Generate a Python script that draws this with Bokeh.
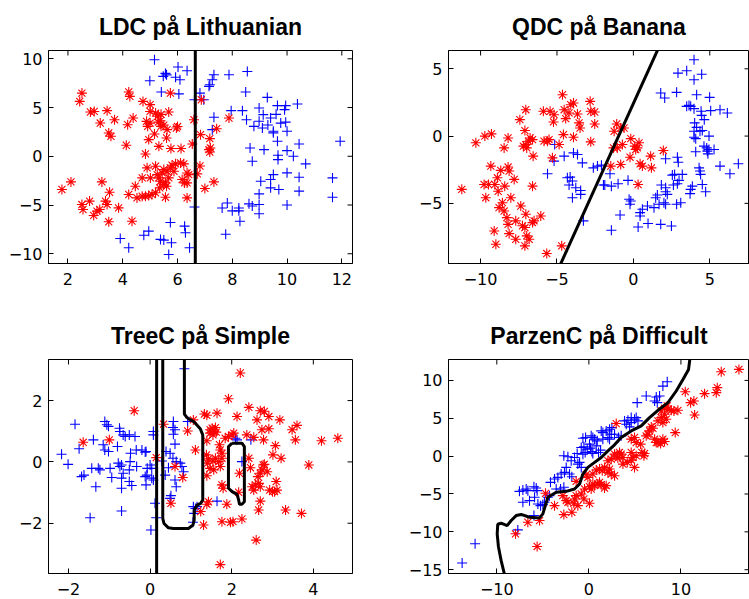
import math
from bokeh.plotting import figure
from bokeh.layouts import column, row
from bokeh.models import Range1d, FixedTicker
from bokeh.embed import file_html
from bokeh.resources import INLINE

# ---------------- data ----------------
titles = ["LDC på Lithuanian", "QDC på Banana", "TreeC på Simple", "ParzenC på Difficult"]

# Panel 1: LDC on Lithuanian
lith_plus_x = [5.16, 6.02, 6.35, 5.56, 5.6, 4.99, 5.48, 5.93, 6.09, 5.41, 6.05, 7.33, 7.27, 7.18, 7.15, 7.88, 8.55, 8.49,
               6.82, 6.96, 6.62, 7.96, 7.33, 7.27, 8.37, 8.52, 8.98, 9.28, 9.65, 9.95, 9.91, 10.38, 9.13, 9.4, 8.79, 9.1,
               9.5, 9.5, 9.95, 9.77, 10.0, 8.65, 9.16, 9.65, 10.44, 9.67, 9.67, 10.0, 10.23, 10.68, 8.73, 11.94, 11.66,
               11.66, 10.44, 10.0, 9.5, 9.4, 9.04, 9.4, 9.7, 8.98, 8.98, 8.98, 8.61, 8.73, 8.24, 8.24, 8.0, 7.82, 7.63,
               8.28, 10.0, 10.44, 7.76, 6.62, 5.74, 6.26, 6.29, 4.95, 4.77, 5.38, 5.5, 5.78, 3.91, 4.22, 5.68, 6.44,
               8.98, 9.3, 9.6]
lith_plus_y = [9.9, 9.15, 8.77, 8.5, 8.35, 7.75, 8.2, 8.1, 7.85, 6.6, 6.4, 8.36, 7.85, 7.34, 7.17, 8.36, 8.7, 6.6,
               6.48, 5.8, 5.8, 4.68, 4.0, 2.73, 4.68, 3.75, 4.95, 6.04, 5.2, 5.2, 4.78, 5.36, 4.27, 3.92, 3.07, 2.9,
               2.56, 2.4, 3.5, 3.4, 2.56, 0.85, 0.68, 1.54, 1.26, 0.1, -0.34, 0.58, 0.0, -0.78, -0.51, 1.54, -2.22,
               -4.2, -2.15, -1.7, -1.88, -2.39, -2.56, -3.24, -3.41, -3.86, -4.95, -5.9, -4.88, -5.1, -5.3, -5.6, -5.6,
               -4.8, -5.3, -6.66, -5.0, -3.58, -8.0, -5.2, -6.8, -7.17, -7.85, -7.68, -8.1, -8.53, -8.6, -8.87, -8.43,
               -9.39, -10.07, -9.39, 3.6, 3.2, 4.3]
lith_star_x = [1.78, 2.11, 2.51, 2.43, 2.82, 2.96, 3.43, 3.18, 3.49, 3.57, 3.7, 4.22, 4.26, 4.38, 4.18, 4.13, 4.74,
               4.87, 4.91, 5.0, 5.0, 5.2, 5.28, 5.38, 5.4, 5.68, 5.62, 5.6, 5.16, 4.95, 5.32, 5.74, 5.96, 6.0, 5.76,
               6.13, 4.83, 6.6, 6.54, 6.84, 6.87, 7.43, 7.18, 7.15, 7.18, 7.2, 7.88, 6.82, 6.72, 7.33, 7.0,
               4.46, 4.71, 4.89, 5.01, 5.2, 5.26, 5.38, 5.5, 5.56, 5.6, 5.62, 5.74, 5.8, 5.93, 6.11, 6.23, 6.35, 6.41,
               6.17, 6.26, 5.87, 5.68, 5.44, 5.32, 5.56, 4.22, 4.52, 4.71, 4.83, 4.95, 5.07, 5.2, 5.35, 5.5,
               3.85, 4.34, 3.49, 3.37, 3.43, 3.16, 3.06, 2.94, 2.79, 2.51, 2.55, 3.24, 3.52, 6.35, 6.35,
               5.0, 5.4, 5.5, 5.3]
lith_star_y = [-3.41, -2.63, 6.48, 5.63, 4.54, 4.6, 4.68, 3.41, 2.39, 2.05, 3.75, 6.6, 6.14, 3.92, 3.24, 1.13, 5.63,
               3.58, 3.07, 5.3, 4.6, 4.43, 4.1, 3.65, 3.07, 4.54, 2.73, 1.88, 2.29, 1.71, 1.02, 6.48, 2.9, 3.05, 0.79,
               0.79, 0.24, 3.75, 1.26, 2.22, 5.8, 2.83, 1.81, 0.68, 0.44, 0.85, 3.92, -1.0, -1.81, -2.63, -3.3,
               -3.07, -2.22, -1.19, -2.22, -1.02, -1.88, -2.56, -1.37, -2.73, -3.07, -1.54, -1.19, -0.92, -0.78, -0.68,
               -0.78, -1.71, -1.88, -2.39, -2.73, -1.54, -2.22, -1.71, -2.22, -4.2, -3.92, -4.27, -4.1, -4.1, -4.03,
               -3.92, -3.75, -3.24, -2.9, -5.29, -6.66, -6.72, -4.6, -4.95, -5.46, -5.63, -6.07, -4.6, -4.95, -5.46,
               -2.63, -3.69, -4.27, -2.73, 3.4, 4.3, 3.2, 3.5]
ldc_bx = [6.65, 6.65]
ldc_by = [-12.0, 12.0]

# Panel 2: QDC on Banana
ban_star_x = [-11.23, -10.31, -9.72, -9.29, -9.33, -9.77, -9.66, -9.48, -9.07, -8.9, -8.85, -9.11, -9.0, -8.46, -8.2,
              -8.2, -8.13, -8.68, -8.79, -8.42, -8.02, -7.8, -8.57, -8.46, -8.28, -8.2, -8.13, -7.7, -7.7, -7.37,
              -7.43, -7.1, -7.04, -7.2, -7.04, -6.98, -6.87, -6.76, -6.6, -6.56, -6.6, -7.04, -7.1, -6.98, -6.82,
              -7.1, -7.26, -6.6, -6.5, -6.06, -5.67, -5.89, -5.45, -5.85, -5.62, -5.52, -5.19, -5.23, -5.3, -4.86,
              -4.58, -4.64, -4.53, -4.43, -4.1, -3.92, -4.21, -3.66, -3.55, -3.49, -3.92, -2.83, -2.79, -2.53, -2.53,
              -2.79, -4.69, -1.48, -1.09, -1.26, -0.83, -0.61, -0.72, -1.05, -1.3, -0.17, -0.22, -0.83, 0.15, 0.26,
              0.37, 0.09, 0.31, 0.44, 0.59, 1.13, 1.18, 1.96]
ban_star_y = [-3.96, -0.5, 0.0, 0.16, -2.23, -3.6, -4.58, -3.6, -3.6, -3.1, -4.1, -7.05, -8.04, -0.88, -0.14,
              -2.3, -2.6, -2.55, -5.32, -3.72, -4.58, -3.22, -4.95, -5.57, -6.06, -6.56, -7.25, -7.67, -6.3, -5.2,
              1.22, 0.41, 1.96, -0.75, -0.63, -0.88, -0.38, -0.14, -0.26, -1.49, -3.72, -5.81, -6.8, -7.42, -7.67,
              -8.16, -6.67, -6.43, -6.3, -5.94, -8.73, 1.84, 1.84, -0.38, -0.38, -0.26, 1.59, 1.05, -1.62, -0.63,
              0.11, 3.07, 1.96, 1.3, 2.33, 2.46, 1.72, 1.64, 0.98, 0.6, -0.09, 2.58, 1.84, 1.79, 0.9,
              -0.43, -8.16, -2.23, 0.9, 0.36, 0.6, 0.6, -0.63, -0.88, -0.88, -0.19, -1.57, -2.11, -1.0, -0.88,
              -0.5, -0.75, -3.6, -2.06, -2.23, -1.49, -2.36, -1.07]
ban_plus_x = [3.97, 2.92, 3.49, 3.97, 4.47, 1.79, 2.05, 2.83, 4.14, 4.99, 3.49, 3.64, 3.75, 3.97, 4.43, 4.47, 4.64,
              5.06, 5.67, 6.15, 4.01, 4.14, 3.97, 4.36, 4.51, 3.97, 4.08, 4.95, 4.62, 4.8, 4.95, 5.28, 4.84, 4.88,
              4.08, 5.67, 6.32, 6.87, 4.3, 4.36, 4.4, 4.51, 4.73, 3.86, 3.75, 3.71, 2.88, 2.94, 2.11, 2.55, 2.7,
              3.2, 2.99, 2.88, 2.62, 1.83, 2.11, 2.11, 2.22, 1.57, 1.46, 2.0, 2.11, 1.68, 2.83, 3.1, 1.35, 0.92,
              0.59, 0.44, 0.44, 0.31, 0.96, 1.79, 2.49, -0.28, -0.22, -0.17, -0.35, -0.87, -1.0, -1.44, -1.87,
              -1.96, -1.53, -2.35, -2.62, -2.09, -1.44, -3.27, -3.92, -3.66, -3.34, -4.53, -5.19, -5.15, -5.62,
              -4.32, -4.14, -3.99, -4.21, -3.77, -3.45, -3.45, -3.99]
ban_plus_y = [5.67, 4.68, 4.85, 4.19, 4.6, 3.2, 2.83, 3.25, 3.07, 2.88, 2.21, 2.28, 2.21, 2.04, 1.84, 1.54, 1.22,
              1.89, 1.96, 1.72, 0.98, 0.65, 0.36, 0.36, 0.41, -0.09, -0.19, 0.0, -0.75, -0.88, -1.0, -1.0, -1.12,
              -1.32, -1.17, -2.23, -2.8, -2.06, -2.36, -2.6, -2.85, -3.6, -4.14, -3.72, -3.96, -4.28, -1.57, -1.94,
              -1.69, -2.9, -2.85, -2.85, -3.29, -3.54, -3.64, -3.64, -3.84, -4.14, -4.33, -4.38, -4.58, -4.95,
              -5.07, -5.07, -5.07, -4.95, -5.32, -5.2, -5.44, -5.69, -5.94, -6.76, -6.5, -6.56, -6.68, -4.7, -5.07,
              -4.83, -3.29, -5.86, -3.54, -3.72, -3.64, -3.64, -2.8, -2.23, -2.36, -2.16, -7.0, -6.3, -1.25, -1.37,
              -1.99, -1.49, -1.86, -0.63, -2.8, -3.1, -3.05, -3.34, -3.64, -3.84, -4.33, -4.04, -4.58]
qdc_bx = [-4.9, 1.7]
qdc_by = [-9.85, 6.68]

# Panel 3: TreeC on Simple
sim_plus_x = [-2.17, -2.01, -1.84, -1.74, -1.68, -1.62, -1.47, -1.39, -1.43, -1.33, -1.27, -1.23, -1.15, -1.11,
              -1.06, -1.02, -1.11, -1.02, -0.98, -0.94, -0.8, -0.75, -0.74, -0.66, -0.61, -0.78, -0.7, -0.74, -0.7,
              -0.66, -0.7, -0.7, -0.51, -0.48, -0.49, -0.51, -0.51, -0.45, -0.37, -0.34, -0.33, -0.2, -0.12, -0.1,
              -0.12, -0.08, -0.1, -0.07, 0.0, 0.04, 0.08, 0.08, 0.12, 0.02, 0.15, 0.04, 0.08, 0.29, 0.39, 0.57,
              0.56, 0.61, 0.57, 0.61, 0.49, 0.56, 0.64, 0.45, 0.37, 0.61, 0.64, 0.51, 0.49, 0.74, 0.78, 0.82, 0.84,
              0.92, 1.06, 1.15, 1.11, 1.08, 1.05, 1.64, 2.09, 2.13, 2.47, 2.25]
sim_plus_y = [0.25, -0.08, 1.23, 0.43, -0.48, -0.43, -1.82, 0.72, -0.21, -0.81, -0.21, -0.26, 0.56, 1.32, 1.21,
              1.16, 0.39, 0.34, -0.21, -0.51, 0.5, 1.1, 0.99, 0.88, 0.83, -0.04, -0.1, -0.15, -0.86, -0.37, -0.53,
              -1.6, 0.88, 0.28, 0.01, -0.26, -0.64, -0.77, 0.83, 0.39, -0.15, 0.39, 0.32, 0.34, -0.48, -0.43, -0.75,
              -0.21, -0.1, -0.21, 0.99, 0.88, -1.35, -2.22, -1.82, -0.53, -0.59, 0.03, 0.34, 1.32, 1.12, 1.05, 0.9,
              0.58, 0.28, 0.12, 0.01, -0.19, -0.43, -0.59, -0.81, -1.1, -1.19, -0.04, -0.15, -0.32, 3.04, 1.32,
              -1.46, -1.46, -1.52, -1.68, -1.97, -1.28, 0.77, 0.72, 0.72, 0.01]
sim_star_x = [-1.64, -1.0, -0.39, 0.15, 0.33, 0.61, 0.8, 0.51, 0.92, 1.06, 1.11, 1.33, 1.39, 1.64, 1.47, 1.52,
              1.56, 1.6, 1.47, 1.54, 1.62, 1.39, 1.38, 1.43, 1.41, 1.47, 1.54, 1.6, 1.56, 1.39, 1.72, 1.68, 1.76,
              1.72, 1.76, 1.7, 1.43, 1.39, 1.24, 1.31, 1.76, 1.79, 1.88, 1.76, 1.97, 2.03, 2.25, 1.92, 2.13, 1.84,
              2.01, 2.05, 1.92, 2.21, 2.42, 2.37, 2.54, 2.19, 2.17, 2.42, 2.46, 2.62, 2.7, 2.8, 2.78, 2.74, 2.64,
              2.7, 2.74, 2.77, 2.87, 2.8, 2.5, 2.58, 2.66, 2.54, 2.7, 2.7, 2.66, 2.6, 2.91, 2.91, 2.93, 3.07, 3.01,
              3.09, 3.05, 3.11, 3.0, 3.18, 3.21, 3.32, 3.48, 3.6, 3.56, 3.71, 3.89, 4.2, 4.6, 1.72]
sim_star_y = [0.64, 0.72, 1.67, 0.14, 1.23, -0.15, -0.51, -1.35, 1.01, 1.37, 0.39, 1.56, 1.52, 1.59, 1.05, 1.1,
              0.99, 1.12, 0.94, 0.88, 0.97, 0.69, 0.23, 0.1, -0.04, -0.21, 0.03, 0.12, -0.26, -0.45, -0.15, 0.01,
              0.12, 0.39, 0.28, 0.56, -1.3, -1.38, -1.62, -2.06, -0.75, -0.86, -1.38, -1.95, -1.97, -1.95, -1.86,
              2.06, 1.48, 0.77, 0.88, 0.94, 0.83, 2.9, 1.78, 0.88, 0.8, -0.37, -0.99, 0.12, -0.19, 1.37, 1.67, 1.65,
              0.72, 1.05, -0.48, -0.37, -0.26, -0.1, -0.32, -0.08, -0.81, -0.75, -0.7, -0.92, -0.81, -1.28, -1.57,
              -2.55, 1.48, 1.08, -0.92, 0.53, 0.23, -0.64, -0.97, -0.92, -0.97, 1.37, 0.12, -1.57, 1.05, 1.19,
              0.72, -1.68, -0.1, 0.69, 0.77, -3.35]
tree_vx = [0.16, 0.16]
tree_vy = [-4.0, 4.0]
tree_ux = [0.31, 0.31, 0.34, 0.45, 0.57, 0.94, 1.05, 1.08, 1.08, 1.15, 1.24, 1.29, 1.29, 1.23, 1.08, 0.9, 0.84, 0.84]
tree_uy = [4.0, -1.84, -2.01, -2.15, -2.17, -2.17, -2.06, -1.9, -1.57, -1.41, -1.35, -1.24, 0.88, 1.08, 1.3, 1.45,
           1.56, 4.0]
tree_lx = [2.01, 2.25, 2.31, 2.31, 2.25, 2.19, 2.17, 2.13, 2.01, 1.92, 1.92, 2.01]
tree_ly = [0.61, 0.61, 0.5, -1.3, -1.38, -1.38, -1.24, -1.06, -0.97, -0.86, 0.5, 0.61]

# Panel 4: ParzenC on Difficult
dif_plus_x = [-13.77, -12.36, -7.72, -7.54, -7.17, -6.81, -6.63, -7.17, -6.45, -5.9, -5.97, -5.72, -5.62, -5.54,
              -5.25, -5.0, -4.82, -5.97, -4.46, -4.28, -4.17, -3.73, -3.37, -3.55, -3.08, -2.72, -3.01, -2.65, -2.72,
              -2.28, -1.92, -2.46, -2.1, -1.85, -1.56, -1.27, -1.2, -1.01, -0.83, -0.65, -0.4, -0.18, -0.54, -0.83,
              -0.65, -0.36, 0.07, 0.18, 0.33, 0.43, 0.25, 0.43, 0.62, 0.91, 1.05, 1.27, 0.8, 1.34, 1.52, 1.88, 1.52,
              2.07, 2.25, 2.43, 2.25, 2.5, 2.79, 3.22, 3.51, 3.88, 4.24, 4.6, 4.06, 4.42, 4.6, 4.96, 5.14, 5.33,
              5.25, 6.23, 7.14, 7.43, 7.32, 7.68, 8.04, 8.51]
dif_plus_y = [-14.12, -11.58, -9.74, -4.65, -4.47, -4.34, -4.56, -6.1, -5.88, -5.44, -4.04, -4.21, -4.56, -6.32,
              -6.54, -6.4, -6.1, -7.85, -5.44, -5.22, -3.46, -3.03, -2.81, -4.34, -4.34, -4.12, -2.37, -2.15, 0.04,
              -0.09, -0.61, -1.49, -2.37, -2.72, -0.18, 0.35, -1.05, -0.83, -1.49, 0.26, 0.48, 0.92, 1.23, 1.14,
              2.37, 2.46, 1.58, 1.05, 0.61, 0.35, 2.68, 2.46, 2.24, 2.02, 0.48, 0.79, 1.36, 3.33, 3.11, 3.33, 2.24,
              2.46, 2.24, 2.89, 3.55, 3.77, 2.89, 2.46, 2.68, 4.65, 4.74, 4.43, 4.21, 3.86, 5.09, 4.87, 5.09, 4.65,
              7.06, 7.94, 7.28, 7.06, 7.81, 7.94, 9.25, 9.82]
dif_star_x = [-7.97, -6.63, -5.36, -5.62, -4.71, -3.73, -2.83, -2.46, -2.72, -1.85, -2.28, -1.63, -1.2, -1.38,
              -1.56, -0.83, -0.54, 0.07, -0.47, -1.38, -0.29, -0.11, 0.07, 0.25, 0.43, 0.62, 0.98, 1.16, 1.34, 1.7,
              1.88, 1.16, 1.45, 1.7, 2.07, 2.25, 2.43, 2.79, 2.07, 2.43, 2.79, 2.97, 3.15, 3.33, 3.51, 3.7, 3.7,
              4.17, 4.6, 4.96, 4.6, 4.78, 5.14, 4.6, 4.96, 5.14, 5.62, 5.76, 5.98, 6.05, 6.23, 6.41, 6.59, 6.78,
              6.96, 7.14, 7.32, 7.5, 7.79, 8.04, 8.22, 7.5, 7.86, 8.04, 8.22, 8.41, 7.86, 8.22, 8.59, 8.95, 9.24,
              9.67, 8.51, 9.38, 10.47, 11.05, 11.41, 11.49, 12.57, 13.84, 13.95, 14.38, 16.3, 2.97, 0.8, 0.43]
dif_star_y = [-10.26, -8.73, -8.51, -11.93, -4.91, -6.54, -5.22, -5.88, -7.72, -7.41, -6.1, -6.23, -6.54, -5.22,
              -5.66, -5.0, -5.66, -6.23, -4.34, -3.33, -2.46, -2.81, -4.04, -4.34, -3.68, -3.9, -3.68, -3.46, -3.77,
              -4.21, -3.9, -1.71, -1.93, -1.49, -2.15, -1.71, -2.37, -2.59, -0.61, -0.39, 0.26, 0.04, -0.26, 0.48,
              0.26, -0.18, -1.05, -0.83, -0.53, -1.49, 0.48, -0.18, 0.04, 2.24, 2.46, 1.8, 1.58, 0.48, 0.04, 0.35,
              2.68, 2.89, 3.33, 3.86, 3.68, 2.24, 1.8, 1.8, 1.67, 2.24, 1.93, 4.65, 5.09, 4.43, 5.53, 4.87, 5.96,
              6.32, 6.18, 6.05, 5.96, 6.05, 6.62, 3.11, 8.51, 7.06, 7.28, 5.44, 8.25, 8.38, 9.04, 11.14, 11.45, 4.3,
              -1.84, -2.37]
parzen_bx = [-9.17, -9.53, -9.82, -9.96, -9.9, -9.53, -8.88, -8.44, -7.9, -7.36, -6.45, -5.36, -5.0, -4.46, -3.55,
             -2.46, -1.56, -1.01, -0.65, -0.11, 0.62, 1.34, 2.07, 2.79, 3.51, 4.6, 5.69, 6.59, 7.5, 8.59, 9.49, 10.22,
             10.83, 10.98]
parzen_by = [-15.6, -13.8, -12.0, -10.3, -9.0, -8.86, -9.17, -8.5, -7.85, -7.7, -8.07, -8.16, -7.63, -5.44, -4.78,
             -4.65, -4.34, -3.68, -2.37, -1.49, -0.83, -0.18, 0.7, 1.49, 2.46, 3.33, 3.99, 5.09, 6.05, 7.06, 8.6,
             10.13, 11.45, 12.9]

x_ticks = [[2, 4, 6, 8, 10, 12], [-10, -5, 0, 5], [-2, 0, 2, 4], [-10, 0, 10]]
y_ticks = [[-10, -5, 0, 5, 10], [-5, 0, 5], [-2, 0, 2], [-15, -10, -5, 0, 5, 10]]
x_lims = [(1.29, 12.39), (-12.1, 7.6), (-2.49, 4.96), (-15.25, 17.45)]
y_lims = [(-11.0, 10.85), (-9.47, 6.36), (-3.64, 3.34), (-15.5, 12.76)]

BLUE = "#0000ff"
RED = "#ff0000"
TICK_FONT = "DejaVu Sans"


def label_map(ticks):
    return {t: (("\u2212" + str(-t)) if t < 0 else str(t)) for t in ticks}


def style_axis(ax, ticks, standoff):
    ax.ticker = FixedTicker(ticks=ticks)
    ax.major_label_overrides = label_map(ticks)
    ax.major_tick_in = 5
    ax.major_tick_out = 0
    ax.minor_tick_line_color = None
    ax.axis_line_color = "black"
    ax.major_tick_line_color = "black"
    ax.major_label_text_color = "black"
    ax.major_label_text_font = TICK_FONT
    ax.major_label_text_font_size = "16px"
    ax.major_label_standoff = standoff


def make(i, w, h, bl, br, bt, bb):
    xr, yr = x_lims[i], y_lims[i]
    p = figure(width=w, height=h, x_range=Range1d(*xr), y_range=Range1d(*yr),
               output_backend="svg", toolbar_location=None,
               min_border_left=bl, min_border_right=br, min_border_top=bt, min_border_bottom=bb)
    p.title.text = titles[i]
    p.title.align = "center"
    p.title.text_font = "Liberation Sans"
    p.title.text_font_style = "bold"
    p.title.text_font_size = "23px"
    p.title.text_color = "black"
    p.title.standoff = 22
    p.grid.visible = False
    p.outline_line_color = "black"
    p.outline_line_width = 1
    p.background_fill_color = "white"
    p.border_fill_color = "white"
    style_axis(p.xaxis[0], x_ticks[i], 9)
    style_axis(p.yaxis[0], y_ticks[i], 6)
    # inward ticks on the top and right edges (box style)
    xt = x_ticks[i]
    yt = y_ticks[i]
    p.ray(x=xt, y=[yr[1]] * len(xt), length=5, length_units="screen", angle=-math.pi / 2,
          line_color="black", line_width=1)
    p.ray(x=[xr[1]] * len(yt), y=yt, length=5, length_units="screen", angle=math.pi,
          line_color="black", line_width=1)
    return p


p1 = make(0, 400, 309, 48, 48, 49, 46)
p2 = make(1, 349, 309, 48, 0, 49, 46)
p3 = make(2, 400, 290, 48, 48, 49, 26)
p4 = make(3, 349, 290, 48, 0, 49, 26)

MS = 10

p1.scatter(lith_plus_x, lith_plus_y, marker="cross", size=MS, line_color=BLUE, line_width=1.1)
p1.scatter(lith_star_x, lith_star_y, marker="asterisk", size=MS, line_color=RED, line_width=1.1)
p1.line(ldc_bx, ldc_by, line_color="black", line_width=3)

p2.scatter(ban_plus_x, ban_plus_y, marker="cross", size=MS, line_color=BLUE, line_width=1.1)
p2.scatter(ban_star_x, ban_star_y, marker="asterisk", size=MS, line_color=RED, line_width=1.1)
p2.line(qdc_bx, qdc_by, line_color="black", line_width=3)

p3.scatter(sim_plus_x, sim_plus_y, marker="cross", size=MS, line_color=BLUE, line_width=1.1)
p3.scatter(sim_star_x, sim_star_y, marker="asterisk", size=MS, line_color=RED, line_width=1.1)
p3.line(tree_vx, tree_vy, line_color="black", line_width=3)
p3.line(tree_ux, tree_uy, line_color="black", line_width=3)
p3.line(tree_lx, tree_ly, line_color="black", line_width=3)

p4.scatter(dif_plus_x, dif_plus_y, marker="cross", size=MS, line_color=BLUE, line_width=1.1)
p4.scatter(dif_star_x, dif_star_y, marker="asterisk", size=MS, line_color=RED, line_width=1.1)
p4.line(parzen_bx, parzen_by, line_color="black", line_width=3)

layout = column(row(p1, p2), row(p3, p4))
open("out.html", "w").write(file_html(layout, INLINE))
